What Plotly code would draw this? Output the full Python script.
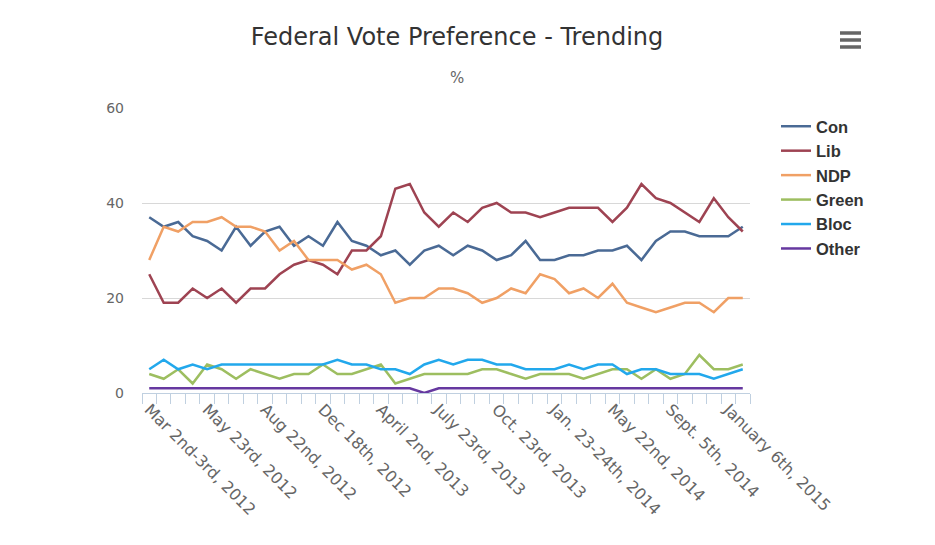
import plotly.graph_objects as go

# ---- data ----
label_positions = [0, 4, 8, 12, 16, 20, 24, 28, 32, 36, 40]
tick_labels = ["Mar 2nd-3rd, 2012", "May 23rd, 2012", "Aug 22nd, 2012", "Dec 18th, 2012",
               "April 2nd, 2013", "July 23rd, 2013", "Oct. 23rd, 2013", "Jan. 23-24th, 2014",
               "May 22nd, 2014", "Sept. 5th, 2014", "January 6th, 2015"]
n_polls = 42
poll_index = list(range(n_polls))

con = [37, 35, 36, 33, 32, 30, 35, 31, 34, 35, 31, 33, 31, 36, 32, 31, 29, 30, 27, 30, 31,
       29, 31, 30, 28, 29, 32, 28, 28, 29, 29, 30, 30, 31, 28, 32, 34, 34, 33, 33, 33, 35]
lib = [25, 19, 19, 22, 20, 22, 19, 22, 22, 25, 27, 28, 27, 25, 30, 30, 33, 43, 44, 38, 35,
       38, 36, 39, 40, 38, 38, 37, 38, 39, 39, 39, 36, 39, 44, 41, 40, 38, 36, 41, 37, 34]
ndp = [28, 35, 34, 36, 36, 37, 35, 35, 34, 30, 32, 28, 28, 28, 26, 27, 25, 19, 20, 20, 22,
       22, 21, 19, 20, 22, 21, 25, 24, 21, 22, 20, 23, 19, 18, 17, 18, 19, 19, 17, 20, 20]
green = [4, 3, 5, 2, 6, 5, 3, 5, 4, 3, 4, 4, 6, 4, 4, 5, 6, 2, 3, 4, 4,
         4, 4, 5, 5, 4, 3, 4, 4, 4, 3, 4, 5, 5, 3, 5, 3, 4, 8, 5, 5, 6]
bloc = [5, 7, 5, 6, 5, 6, 6, 6, 6, 6, 6, 6, 6, 7, 6, 6, 5, 5, 4, 6, 7,
        6, 7, 7, 6, 6, 5, 5, 5, 6, 5, 6, 6, 4, 5, 5, 4, 4, 4, 3, 4, 5]
other = [1, 1, 1, 1, 1, 1, 1, 1, 1, 1, 1, 1, 1, 1, 1, 1, 1, 1, 1, 0, 1,
         1, 1, 1, 1, 1, 1, 1, 1, 1, 1, 1, 1, 1, 1, 1, 1, 1, 1, 1, 1, 1]

series = [("Con", con, "#4a6a95"), ("Lib", lib, "#9e4352"), ("NDP", ndp, "#f0a065"),
          ("Green", green, "#9dbe60"), ("Bloc", bloc, "#22a8ec"), ("Other", other, "#6638a0")]

fig = go.Figure()
for name, vals, color in series:
    fig.add_trace(go.Scatter(x=poll_index, y=vals, name=name, mode="lines",
                             line=dict(color=color, width=2.5)))

W, H = 935, 545
OFF = 8  # page margin offset of the rendered figure
# plot area in screenshot pixels: x 142..750, y 108..393
L = 142 - OFF
T = 108 - OFF
R = W - (750 - OFF)
B = H - (393 - OFF)
pw, ph = W - L - R, H - T - B

def px_x(p):
    return (p - OFF - L) / pw

def px_y(p):
    return (H - B - (p - OFF)) / ph

fig.update_layout(
    width=W, height=H,
    margin=dict(l=L, r=R, t=T, b=B),
    paper_bgcolor="white", plot_bgcolor="white",
    font=dict(family="DejaVu Sans", color="#666666"),
    title=dict(text="Federal Vote Preference - Trending", x=(457 - OFF) / W, xanchor="center",
               xref="container", y=1 - (37 - OFF) / H, yanchor="middle", yref="container",
               font=dict(size=24, color="#333333", family="DejaVu Sans")),
    showlegend=True,
    legend=dict(x=px_x(776), y=px_y(109), xanchor="left", yanchor="top",
                font=dict(size=16.5, color="#333333", family="Liberation Sans", weight="bold"),
                tracegroupgap=0, bgcolor="rgba(0,0,0,0)"),
    xaxis=dict(range=[-0.5, n_polls - 0.5], tickmode="array", tickvals=label_positions,
               ticktext=tick_labels, tickangle=45, ticks="", showgrid=False,
               showline=True, linecolor="#C0D0E0", linewidth=1, zeroline=False,
               tickfont=dict(size=16, color="#666666"),
               minor=dict(tick0=-0.5, dtick=1, ticks="outside", ticklen=10,
                          tickcolor="#C0D0E0", tickwidth=1, showgrid=False)),
    yaxis=dict(range=[0, 60], tickvals=[0, 20, 40, 60], showgrid=True,
               gridcolor="#d8d8d8", gridwidth=1, zeroline=False, showline=False,
               tickfont=dict(size=14, color="#666666"), ticklabelstandoff=17),
    hovermode=False,
)

fig.add_annotation(text="%", xref="paper", yref="paper", x=px_x(457), y=px_y(78),
                   showarrow=False, font=dict(size=15, color="#666666"),
                   xanchor="center", yanchor="middle")

for py in (33, 40, 47):
    fig.add_shape(type="line", xref="paper", yref="paper",
                  x0=px_x(840), x1=px_x(861), y0=px_y(py), y1=px_y(py),
                  line=dict(color="#666666", width=3.5))

fig.write_html("out.html")
